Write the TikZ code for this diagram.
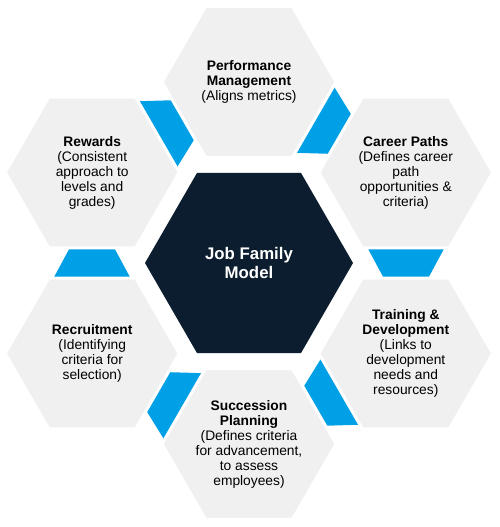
\documentclass[tikz,border=0pt]{standalone}
\usepackage{fontspec}
\setmainfont{Liberation Sans}
\usetikzlibrary{shapes.geometric}
\definecolor{hexgray}{RGB}{240,240,240}
\definecolor{hexblue}{RGB}{0,160,230}
\definecolor{hexnavy}{RGB}{11,29,46}
\tikzset{
  outerhex/.style={regular polygon, regular polygon sides=6, minimum size=174pt,
    inner sep=0pt, outer sep=0pt, fill=hexgray, draw=white, line width=3pt},
  corehex/.style={regular polygon, regular polygon sides=6, minimum size=208pt,
    inner sep=0pt, outer sep=0pt, fill=hexnavy},
  hextext/.style={align=center, font=\fontsize{13.8}{15}\selectfont, text=black, inner sep=0pt},
  coretext/.style={align=center, font=\fontsize{16.8}{18.5}\selectfont\bfseries, text=white, inner sep=0pt},
  bluewedge/.style={fill=hexblue}
}
\begin{document}
\begin{tikzpicture}[x=1pt,y=1pt]
\useasboundingbox (0,0) rectangle (500,527);
\coordinate (C) at (249,264);
% blue wedges between outer hexagons
\foreach \a in {0,60,...,300}{
  \begin{scope}[shift={(C)}, rotate=\a]
    \fill[bluewedge] (114.8,22) -- (199.2,22) -- (175.5,-22) -- (138.5,-22) -- cycle;
  \end{scope}
}
% outer hexagons
\node[outerhex] (perf) at (249,445) {};
\node[outerhex] (career) at (405.8,354.5) {};
\node[outerhex] (train) at (405.8,173.5) {};
\node[outerhex] (succ) at (249,83) {};
\node[outerhex] (recr) at (92.2,173.5) {};
\node[outerhex] (rew) at (92.2,354.5) {};
% core hexagon
\node[corehex] (core) at (C) {};
% texts
\node[coretext] (coret) at (C) {Job Family\\Model};
\node[hextext] (perft) at (perf) {\textbf{Performance}\\\textbf{Management}\\(Aligns metrics)};
\node[hextext] (careert) at (career) {\textbf{Career Paths}\\(Defines career\\path\\opportunities \&\\criteria)};
\node[hextext] (traint) at (train) {\textbf{Training \&}\\\textbf{Development}\\(Links to\\development\\needs and\\resources)};
\node[hextext] (succt) at (succ) {\textbf{Succession}\\\textbf{Planning}\\(Defines criteria\\for advancement,\\to assess\\employees)};
\node[hextext] (recrt) at (recr) {\textbf{Recruitment}\\(Identifying\\criteria for\\selection)};
\node[hextext] (rewt) at (rew) {\textbf{Rewards}\\(Consistent\\approach to\\levels and\\grades)};
\end{tikzpicture}
\end{document}
